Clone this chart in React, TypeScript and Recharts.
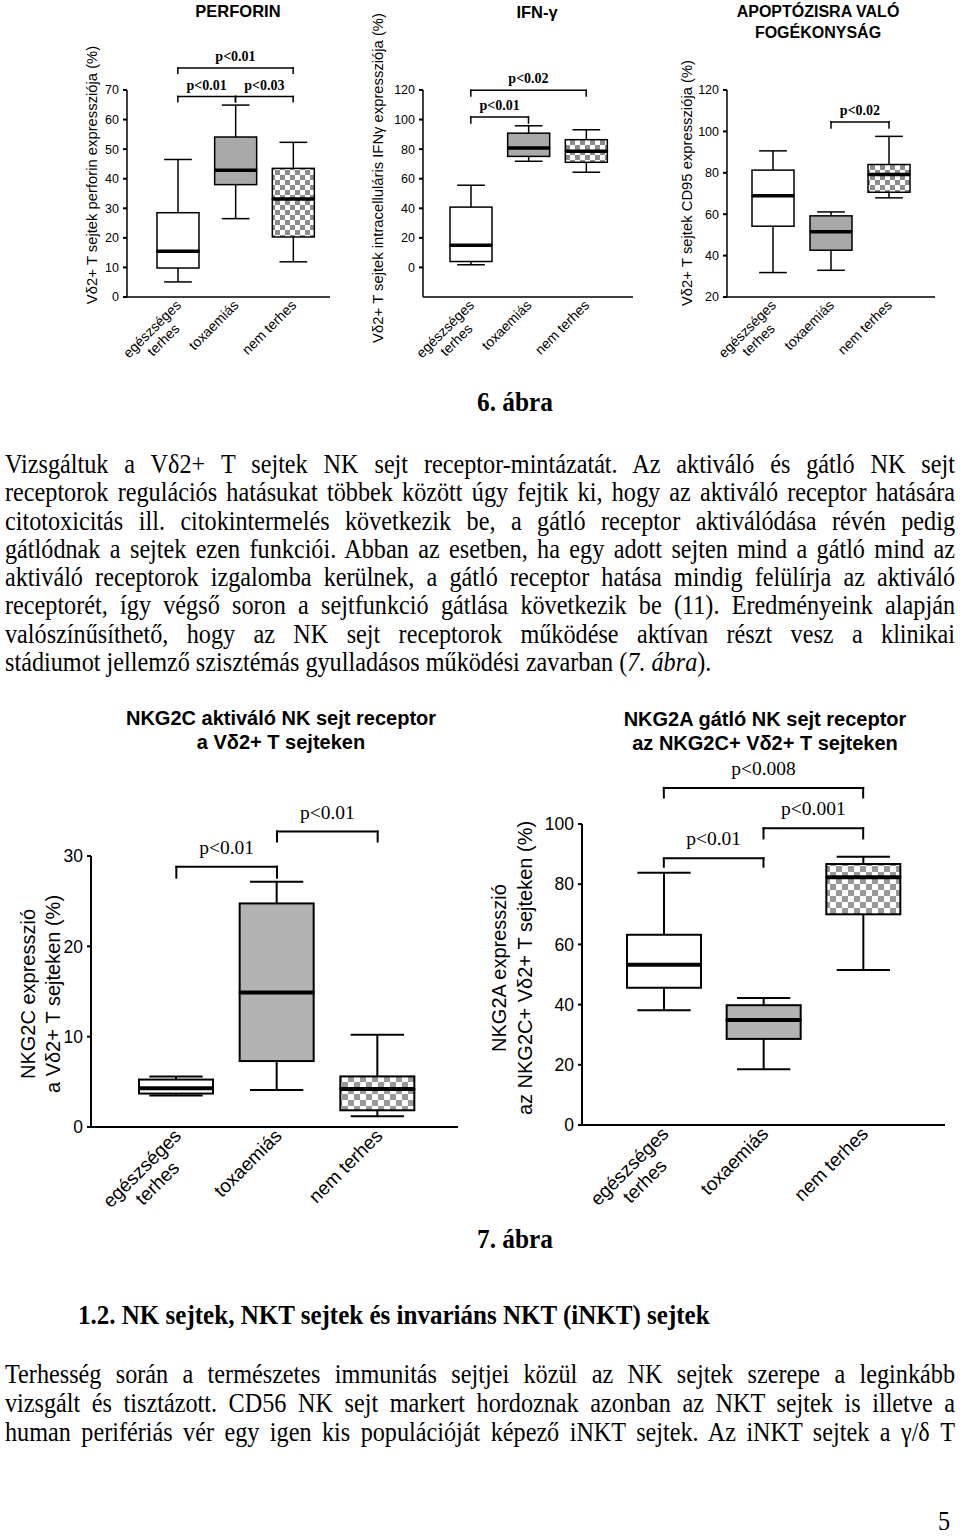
import React from 'react';
import { ComposedChart, Bar, XAxis, YAxis, ReferenceLine } from 'recharts';

const SANS = '"Liberation Sans", Arial, sans-serif';
const SERIF = '"Liberation Serif", "Times New Roman", serif';

const groups = ['egészséges\nterhes', 'toxaemiás', 'nem terhes'];

// 6. ábra - perforin
const perforinMin = [5.1, 26.5, 11.9];
const perforinQ1 = [9.8, 38.0, 20.3];
const perforinMedian = [15.5, 42.9, 33.1];
const perforinQ3 = [28.5, 54.1, 43.5];
const perforinMax = [46.5, 64.9, 52.3];
const perforinTicks = [0, 10, 20, 30, 40, 50, 60, 70];

// 6. ábra - IFN-γ
const ifnMin = [1.8, 71.8, 64.4];
const ifnQ1 = [4.0, 75.1, 71.1];
const ifnMedian = [15.0, 80.8, 78.5];
const ifnQ3 = [40.8, 90.8, 86.4];
const ifnMax = [55.6, 95.8, 93.1];
const ifnTicks = [0, 20, 40, 60, 80, 100, 120];

// 6. ábra - CD95 (apoptózis)
const cd95Min = [31.8, 32.9, 67.9];
const cd95Q1 = [54.2, 42.6, 70.6];
const cd95Median = [68.9, 51.5, 79.2];
const cd95Q3 = [81.3, 59.2, 84.0];
const cd95Max = [90.6, 61.1, 97.6];
const cd95Ticks = [20, 40, 60, 80, 100, 120];

// 7. ábra - NKG2C
const nkg2cMin = [3.5, 4.1, 1.2];
const nkg2cQ1 = [3.7, 7.3, 1.85];
const nkg2cMedian = [4.3, 14.9, 4.2];
const nkg2cQ3 = [5.25, 24.75, 5.6];
const nkg2cMax = [5.6, 27.15, 10.2];
const nkg2cTicks = [0, 10, 20, 30];

// 7. ábra - NKG2A
const nkg2aMin = [38.1, 18.5, 51.5];
const nkg2aQ1 = [45.6, 28.6, 70.0];
const nkg2aMedian = [53.2, 34.9, 82.3];
const nkg2aQ3 = [63.2, 39.8, 86.7];
const nkg2aMax = [83.8, 42.2, 89.1];
const nkg2aTicks = [0, 20, 40, 60, 80, 100];

// significance brackets (group index from/to, bracket level, end of the down ticks)
const perforinSig = [
  { from: 0, to: 2, level: 77.4, end: 75.7, p: 'p<0.01' },
  { from: 0, to: 1, level: 67.8, end: 66.0, p: 'p<0.01' },
  { from: 1, to: 2, level: 67.8, end: 66.0, p: 'p<0.03' },
];
const ifnSig = [
  { from: 0, to: 1, level: 101.7, end: 97.7, p: 'p<0.01' },
  { from: 0, to: 2, level: 119.9, end: 115.9, p: 'p<0.02' },
];
const cd95Sig = [{ from: 1, to: 2, level: 104.5, end: 101.6, p: 'p<0.02' }];
const nkg2cSig = [
  { from: 0, to: 1, level: 28.8, end: 27.6, p: 'p<0.01' },
  { from: 1, to: 2, level: 32.7, end: 31.6, p: 'p<0.01' },
];
const nkg2aSig = [
  { from: 0, to: 1, level: 88.6, end: 85.8, p: 'p<0.01' },
  { from: 1, to: 2, level: 98.6, end: 95.2, p: 'p<0.001' },
  { from: 0, to: 2, level: 112, end: 108.8, p: 'p<0.008' },
];

const toRows = (min, q1, med, q3, max) =>
  groups.map((name, i) => ({
    name,
    base: min[i],
    lowW: q1[i] - min[i],
    boxLow: med[i] - q1[i],
    boxHigh: q3[i] - med[i],
    upW: max[i] - q3[i],
  }));

const TOP = {
  yAxisW: 50, xAxisH: 80, tickFont: 14, pFont: 14, pBold: true, pOffset: 7,
  stroke: 1.5, median: 3.5, axis: 1.5, barSize: 42, cap: 0.66,
  gray: '#a9a9a9', check: '#8c8c8c', cell: 5, tdx: 4, tdy: 9, yFont: 12.5, labelFont: 14.8,
};
const BOTTOM = {
  yAxisW: 50, xAxisH: 80, tickFont: 19, pFont: 19.5, pBold: false, pOffset: 13,
  stroke: 2, median: 4, axis: 2, barSize: 74, cap: 0.72,
  gray: '#b3b3b3', check: '#999999', cell: 6, tdx: 6, tdy: 10, yFont: 17.5, labelFont: 20,
};

function BoxChart({ id, frame, st, rows, domain, ticks, sig, yLabels }) {
  const fills = ['#ffffff', st.gray, `url(#chk-${id})`];
  const margin = {
    left: frame.plotL - frame.left - st.yAxisW,
    top: frame.plotT - frame.top,
    right: frame.left + frame.width - frame.plotR,
    bottom: frame.top + frame.height - frame.plotB - st.xAxisH,
  };

  const empty = () => <g />;
  const lowWhisker = (p) => {
    const cx = p.x + p.width / 2;
    const cw = (p.width * st.cap) / 2;
    return (
      <g>
        <line x1={cx} x2={cx} y1={p.y} y2={p.y + p.height} stroke="#000" strokeWidth={st.stroke} />
        <line x1={cx - cw} x2={cx + cw} y1={p.y + p.height} y2={p.y + p.height} stroke="#000" strokeWidth={st.stroke} />
      </g>
    );
  };
  const upWhisker = (p) => {
    const cx = p.x + p.width / 2;
    const cw = (p.width * st.cap) / 2;
    return (
      <g>
        <line x1={cx} x2={cx} y1={p.y} y2={p.y + p.height} stroke="#000" strokeWidth={st.stroke} />
        <line x1={cx - cw} x2={cx + cw} y1={p.y} y2={p.y} stroke="#000" strokeWidth={st.stroke} />
      </g>
    );
  };
  const boxLow = (p) => (
    <rect x={p.x} y={p.y} width={p.width} height={p.height} fill={fills[p.index]} stroke="#000" strokeWidth={st.stroke} />
  );
  const boxHigh = (p) => (
    <g>
      <rect x={p.x} y={p.y} width={p.width} height={p.height} fill={fills[p.index]} stroke="#000" strokeWidth={st.stroke} />
      <line x1={p.x} x2={p.x + p.width} y1={p.y + p.height} y2={p.y + p.height} stroke="#000" strokeWidth={st.median} />
    </g>
  );

  const renderTick = (p) => {
    const lines = String(p.payload.value).split('\n');
    const fs = st.tickFont;
    const w1 = lines[0].length * fs * 0.53;
    return (
      <g transform={`translate(${p.x + st.tdx},${p.y + st.tdy}) rotate(-45)`}>
        <text x={0} y={0} textAnchor="end" fontSize={fs} fontFamily={SANS} fill="#000">{lines[0]}</text>
        {lines[1] ? (
          <text x={-w1 / 2} y={fs * 1.12} textAnchor="middle" fontSize={fs} fontFamily={SANS} fill="#000">{lines[1]}</text>
        ) : null}
      </g>
    );
  };

  const renderYLabel = () => (
    <g>
      {yLabels.map((l, i) => {
        const x = l.x - frame.left;
        const y = l.y - frame.top;
        return (
          <text key={i} x={x} y={y} transform={`rotate(-90 ${x} ${y})`} textAnchor="middle" dominantBaseline="central"
            fontSize={st.labelFont} fontFamily={SANS} fill="#000">{l.text}</text>
        );
      })}
    </g>
  );

  const lineProps = { ifOverflow: 'visible' as const, stroke: '#000', strokeWidth: st.stroke, strokeLinecap: 'square' as const };

  return (
    <div style={{ position: 'absolute', left: frame.left, top: frame.top }}>
      <ComposedChart width={frame.width} height={frame.height} data={rows} margin={margin}>
        <defs>
          <pattern id={`chk-${id}`} width={st.cell * 2} height={st.cell * 2} patternUnits="userSpaceOnUse">
            <rect width={st.cell * 2} height={st.cell * 2} fill="#ffffff" />
            <rect x={0} y={0} width={st.cell} height={st.cell} fill={st.check} />
            <rect x={st.cell} y={st.cell} width={st.cell} height={st.cell} fill={st.check} />
          </pattern>
        </defs>
        <XAxis dataKey="name" type="category" interval={0} height={st.xAxisH}
          padding={{ left: frame.padL, right: frame.padR }}
          axisLine={{ stroke: '#000', strokeWidth: st.axis }} tickLine={false} tickSize={0} tickMargin={0}
          tick={renderTick} />
        <YAxis type="number" domain={domain} ticks={ticks} allowDataOverflow width={st.yAxisW}
          axisLine={{ stroke: '#000', strokeWidth: st.axis }}
          tickLine={{ stroke: '#000', strokeWidth: 2 }} tickSize={4} tickMargin={4}
          tick={{ fontSize: st.yFont, fill: '#000', fontFamily: SANS }}
          label={renderYLabel} />
        <Bar dataKey="base" stackId="a" barSize={st.barSize} shape={empty} isAnimationActive={false} />
        <Bar dataKey="lowW" stackId="a" barSize={st.barSize} shape={lowWhisker} isAnimationActive={false} />
        <Bar dataKey="boxLow" stackId="a" barSize={st.barSize} shape={boxLow} isAnimationActive={false} />
        <Bar dataKey="boxHigh" stackId="a" barSize={st.barSize} shape={boxHigh} isAnimationActive={false} />
        <Bar dataKey="upW" stackId="a" barSize={st.barSize} shape={upWhisker} isAnimationActive={false} />
        {sig.flatMap((b, i) => {
          const a = groups[b.from];
          const c = groups[b.to];
          return [
            <ReferenceLine key={`h${i}`} {...lineProps} segment={[{ x: a, y: b.level }, { x: c, y: b.level }]}
              label={{ value: b.p, position: 'top', offset: st.pOffset, fontSize: st.pFont, fontFamily: SERIF,
                fontWeight: st.pBold ? 'bold' : 'normal', fill: '#000' }} />,
            <ReferenceLine key={`l${i}`} {...lineProps} segment={[{ x: a, y: b.level }, { x: a, y: b.end }]} />,
            <ReferenceLine key={`r${i}`} {...lineProps} segment={[{ x: c, y: b.level }, { x: c, y: b.end }]} />,
          ];
        })}
      </ComposedChart>
    </div>
  );
}

function Title({ lines, cx, cy, fs, gap }) {
  return (
    <>
      {lines.map((t, i) => (
        <div key={i} style={{ position: 'absolute', left: cx - 250, width: 500, top: cy + i * gap - fs * 0.6,
          lineHeight: `${fs * 1.2}px`, fontSize: fs, fontWeight: 'bold', fontFamily: SANS, textAlign: 'center', color: '#000' }}>
          {t}
        </div>
      ))}
    </>
  );
}

// body text: Times, a bit condensed like the scanned page
const TEXT_FS = 27.5;
const TEXT_SX = 0.88;
const TEXT_W = 950 / TEXT_SX;

function Para({ lines, top, lh, justifyLast }) {
  return (
    <div style={{ position: 'absolute', left: 5, top, width: TEXT_W, transform: `scaleX(${TEXT_SX})`, transformOrigin: '0 0',
      fontFamily: SERIF, fontSize: TEXT_FS, lineHeight: `${lh}px`, color: '#000' }}>
      {lines.map((ln, i) => (
        <div key={i} style={{ whiteSpace: 'nowrap', textAlign: 'justify',
          textAlignLast: i < lines.length - 1 || justifyLast ? 'justify' : 'left' }}>{ln}</div>
      ))}
    </div>
  );
}

function Caption({ text, x, top, center, sx }) {
  return (
    <div style={{ position: 'absolute', left: center ? x - 300 : x, width: center ? 600 : 1000, top,
      textAlign: center ? 'center' : 'left', fontFamily: SERIF, fontWeight: 'bold', fontSize: TEXT_FS, lineHeight: '28.3px',
      color: '#000', whiteSpace: 'nowrap', transform: `scaleX(${sx})`, transformOrigin: center ? '50% 0' : '0 0' }}>
      {text}
    </div>
  );
}

const para1 = [
  'Vizsgáltuk a Vδ2+ T sejtek NK sejt receptor-mintázatát. Az aktiváló és gátló NK sejt',
  'receptorok regulációs hatásukat többek között úgy fejtik ki, hogy az aktiváló receptor hatására',
  'citotoxicitás ill. citokintermelés következik be, a gátló receptor aktiválódása révén pedig',
  'gátlódnak a sejtek ezen funkciói. Abban az esetben, ha egy adott sejten mind a gátló mind az',
  'aktiváló receptorok izgalomba kerülnek, a gátló receptor hatása mindig felülírja az aktiváló',
  'receptorét, így végső soron a sejtfunkció gátlása következik be (11). Eredményeink alapján',
  'valószínűsíthető, hogy az NK sejt receptorok működése aktívan részt vesz a klinikai',
  <span>stádiumot jellemző szisztémás gyulladásos működési zavarban (<i>7. ábra</i>).</span>,
];
const para2 = [
  'Terhesség során a természetes immunitás sejtjei közül az NK sejtek szerepe a leginkább',
  'vizsgált és tisztázott. CD56 NK sejt markert hordoznak azonban az NKT sejtek is illetve a',
  'human perifériás vér egy igen kis populációját képező iNKT sejtek. Az iNKT sejtek a γ/δ T',
];

export default function App() {
  return (
    <div style={{ position: 'absolute', left: 0, top: 0, width: 960, height: 1537, background: '#fff', overflow: 'hidden' }}>
      <Title lines={['PERFORIN']} cx={238} cy={12} fs={16.5} gap={21} />
      <Title lines={['IFN-γ']} cx={537} cy={13} fs={16.5} gap={21} />
      <Title lines={['APOPTÓZISRA VALÓ', 'FOGÉKONYSÁG']} cx={818} cy={12} fs={16} gap={21} />

      <BoxChart id="perf" st={TOP}
        frame={{ left: 55, top: 0, width: 285, height: 385, plotL: 127, plotR: 330, plotT: 90, plotB: 297, padL: 22, padR: 8 }}
        rows={toRows(perforinMin, perforinQ1, perforinMedian, perforinQ3, perforinMax)}
        domain={[0, 70]} ticks={perforinTicks} sig={perforinSig}
        yLabels={[{ x: 92, y: 175, text: 'Vδ2+ T  sejtek perforin expressziója (%)' }]} />
      <BoxChart id="ifn" st={TOP}
        frame={{ left: 360, top: 0, width: 285, height: 385, plotL: 423, plotR: 633, plotT: 90, plotB: 297, padL: 19, padR: 18 }}
        rows={toRows(ifnMin, ifnQ1, ifnMedian, ifnQ3, ifnMax)}
        domain={[-20, 120]} ticks={ifnTicks} sig={ifnSig}
        yLabels={[{ x: 378, y: 178, text: 'Vδ2+ T  sejtek intracelluláris IFNγ expressziója (%)' }]} />
      <BoxChart id="cd95" st={TOP}
        frame={{ left: 665, top: 0, width: 295, height: 385, plotL: 727, plotR: 935, plotT: 90, plotB: 297, padL: 17, padR: 17 }}
        rows={toRows(cd95Min, cd95Q1, cd95Median, cd95Q3, cd95Max)}
        domain={[20, 120]} ticks={cd95Ticks} sig={cd95Sig}
        yLabels={[{ x: 687, y: 183, text: 'Vδ2+ T sejtek CD95 expressziója (%)' }]} />

      <Caption text="6. ábra" x={515} top={388} center sx={0.92} />
      <Para lines={para1} top={450} lh={28.3} justifyLast={false} />

      <Title lines={['NKG2C aktiváló NK sejt receptor', 'a Vδ2+ T sejteken']} cx={281} cy={718} fs={20} gap={24} />
      <Title lines={['NKG2A gátló NK sejt receptor', 'az NKG2C+ Vδ2+ T sejteken']} cx={765} cy={719} fs={20} gap={24} />

      <BoxChart id="nkg2c" st={BOTTOM}
        frame={{ left: 0, top: 740, width: 470, height: 490, plotL: 91, plotR: 458, plotT: 856, plotB: 1127, padL: 35, padR: 30 }}
        rows={toRows(nkg2cMin, nkg2cQ1, nkg2cMedian, nkg2cQ3, nkg2cMax)}
        domain={[0, 30]} ticks={nkg2cTicks} sig={nkg2cSig}
        yLabels={[{ x: 28, y: 994, text: 'NKG2C expresszió' }, { x: 53, y: 994, text: 'a Vδ2+ T  sejteken (%)' }]} />
      <BoxChart id="nkg2a" st={BOTTOM}
        frame={{ left: 470, top: 740, width: 490, height: 490, plotL: 582, plotR: 945, plotT: 824, plotB: 1125, padL: 32, padR: 32 }}
        rows={toRows(nkg2aMin, nkg2aQ1, nkg2aMedian, nkg2aQ3, nkg2aMax)}
        domain={[0, 100]} ticks={nkg2aTicks} sig={nkg2aSig}
        yLabels={[{ x: 499, y: 968, text: 'NKG2A expresszió' }, { x: 525, y: 968, text: 'az NKG2C+ Vδ2+ T sejteken (%)' }]} />

      <Caption text="7. ábra" x={515} top={1225} center sx={0.92} />
      <Caption text="1.2. NK sejtek, NKT sejtek és invariáns NKT (iNKT) sejtek" x={78} top={1301} center={false} sx={0.91} />
      <Para lines={para2} top={1360} lh={28.8} justifyLast />
      <div style={{ position: 'absolute', left: 938, top: 1510, fontFamily: SERIF, fontSize: TEXT_FS, lineHeight: '22px',
        color: '#000', transform: `scaleX(${TEXT_SX})`, transformOrigin: '0 0' }}>5</div>
    </div>
  );
}
